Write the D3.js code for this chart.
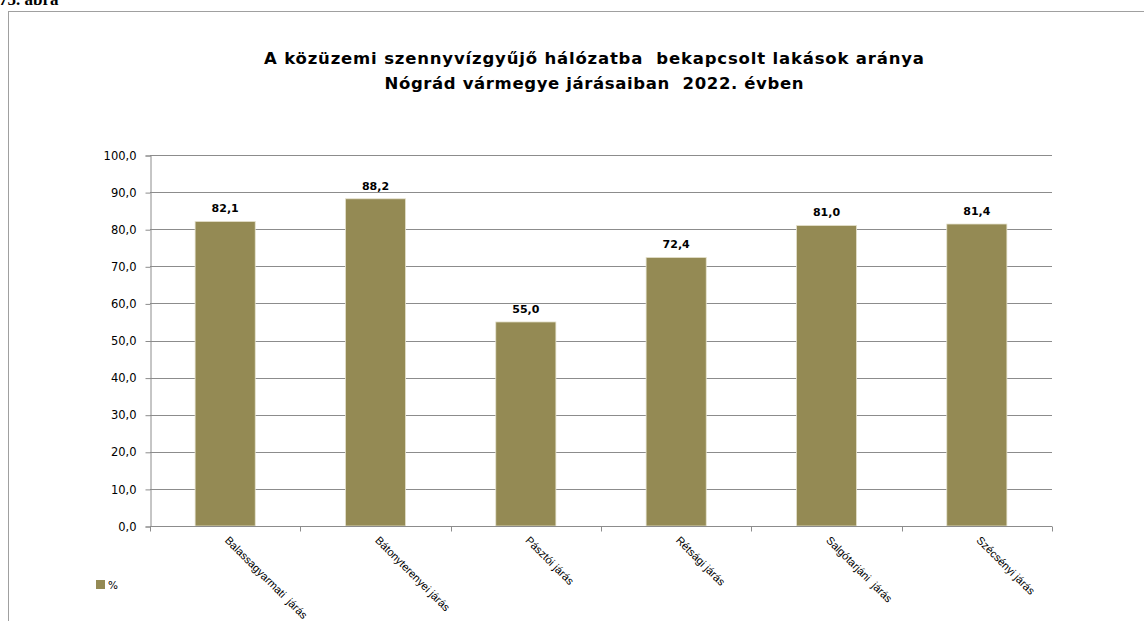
<!DOCTYPE html>
<html><head><meta charset="utf-8">
<script src="https://cdn.jsdelivr.net/npm/d3@7"></script>
<style>body{margin:0;background:#fff;} svg{display:block;}</style>
</head><body>
<svg id="c" width="1144" height="621"></svg>
<script>
const categories = ["Balassagyarmati  járás","Bátonyterenyei járás","Pásztói járás","Rétsági járás","Salgótarjáni  járás","Szécsényi járás"];
const values = [82.1, 88.2, 55.0, 72.4, 81.0, 81.4];
const yTicks = [0,10,20,30,40,50,60,70,80,90,100];
const titleLines = ["A közüzemi szennyvízgyűjő hálózatba  bekapcsolt lakások aránya","Nógrád vármegye járásaiban  2022. évben"];
const seriesName = "%";
const color = "#948A54";

const svg = d3.select("#c");
const fmt = v => v.toFixed(1).replace(".", ",");

// figure caption (partly cut off at top, as in the reference)
svg.append("text").attr("x", -1).attr("y", 5).attr("font-family","Liberation Serif").attr("font-weight","bold").attr("font-size",17).text("75. ábra");

// frame
svg.append("rect").attr("x",8.5).attr("y",11.5).attr("width",1200).attr("height",700).attr("fill","none").attr("stroke","#a0a0a0").attr("stroke-width",1);

// title
const titleLen = [660, 419];
svg.append("g").selectAll("text").data(titleLines).join("text")
  .attr("x",594).attr("y",(d,i)=>64+i*25).attr("text-anchor","middle")
  .attr("font-family","DejaVu Sans").attr("font-weight","bold").attr("font-size",16.5)
  .attr("textLength",(d,i)=>titleLen[i]).attr("lengthAdjust","spacing")
  .attr("fill","#000").style("white-space","pre").text(d=>d);

const x = d3.scaleBand().domain(categories).range([150,1052]).padding(0);
const y = d3.scaleLinear().domain([0,100]).range([526,155]);

// gridlines
svg.append("g").selectAll("line").data(yTicks.filter(t=>t>0)).join("line")
  .attr("x1",150).attr("x2",1052).attr("y1",d=>Math.round(y(d))+0.5).attr("y2",d=>Math.round(y(d))+0.5)
  .attr("stroke","#8c8c8c").attr("stroke-width",1);

// y axis
const yAxis = d3.axisLeft(y).tickValues(yTicks).tickFormat(fmt).tickSize(5).tickPadding(9);
const gy = svg.append("g").attr("transform","translate(150.5,0.5)").call(yAxis);
gy.select(".domain").attr("stroke","#8c8c8c");
gy.selectAll(".tick line").attr("stroke","#8c8c8c");
gy.selectAll(".tick text").attr("font-family","DejaVu Sans").attr("font-size",11.5).attr("fill","#000");

// bars
const bw = x.bandwidth()*0.4;
svg.append("g").selectAll("rect").data(values).join("rect")
  .attr("x",(d,i)=>x(categories[i])+x.bandwidth()/2-bw/2)
  .attr("y",d=>y(d)).attr("width",bw).attr("height",d=>y(0)-y(d))
  .attr("fill",color).attr("stroke","#e6e3cf").attr("stroke-width",0.8);

// data labels
svg.append("g").selectAll("text").data(values).join("text")
  .attr("x",(d,i)=>x(categories[i])+x.bandwidth()/2)
  .attr("y",d=>y(d)-9).attr("text-anchor","middle")
  .attr("font-family","DejaVu Sans").attr("font-weight","bold").attr("font-size",11)
  .text(fmt);

// x axis
const xAxis = d3.axisBottom(x).tickSize(0).tickFormat("");
const gx = svg.append("g").attr("transform","translate(0,526.5)").call(xAxis);
gx.select(".domain").attr("stroke","#8c8c8c").attr("d","M150,0H1052");
gx.selectAll(".tick").remove();
const bounds = categories.map(c=>x(c)).concat([x(categories[categories.length-1])+x.bandwidth()]);
gx.selectAll("line.b").data(bounds).join("line").attr("class","b")
  .attr("x1",d=>Math.round(d)+0.5).attr("x2",d=>Math.round(d)+0.5).attr("y1",0).attr("y2",5).attr("stroke","#8c8c8c");

// category labels
svg.append("g").selectAll("text").data(categories).join("text")
  .attr("transform",c=>`translate(${x(c)+x.bandwidth()/2-1},541) rotate(45)`)
  .attr("font-family","Liberation Sans").attr("font-size",11).attr("fill","#000")
  .style("white-space","pre").text(d=>d);

// legend
svg.append("rect").attr("x",96).attr("y",580).attr("width",9).attr("height",9).attr("fill",color);
svg.append("text").attr("x",108).attr("y",589).attr("font-family","DejaVu Sans").attr("font-size",10.5).text(seriesName);
</script>
</body></html>
